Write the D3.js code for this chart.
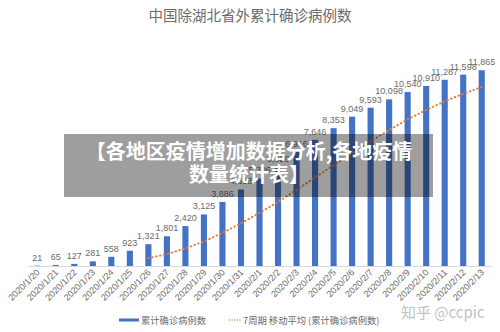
<!DOCTYPE html>
<html>
<head>
<meta charset="utf-8">
<script src="https://cdn.jsdelivr.net/npm/d3@7"></script>
<style>
  html, body { margin: 0; padding: 0; background: #fff; }
  svg { display: block; }
</style>
</head>
<body>
<svg id="chart" width="500" height="332"></svg>
<script>
const title = "中国除湖北省外累计确诊病例数";
const dates = ["2020/1/20","2020/1/21","2020/1/22","2020/1/23","2020/1/24","2020/1/25","2020/1/26","2020/1/27","2020/1/28","2020/1/29","2020/1/30","2020/1/31","2020/2/1","2020/2/2","2020/2/3","2020/2/4","2020/2/5","2020/2/6","2020/2/7","2020/2/8","2020/2/9","2020/2/10","2020/2/11","2020/2/12","2020/2/13"];
const cases = [21,65,127,281,558,923,1321,1801,2420,3125,3886,4638,5306,6028,6916,7646,8353,9049,9593,10098,10540,10910,11287,11598,11865];
const movingAvg = [null,null,null,null,null,null,471,725,1062,1490,2005,2588,3214,3886,4617,5364,6110,6848,7556,8240,8885,9456,9976,10439,10841];
const legendLabels = ["累计确诊病例数", "7周期 移动平均 (累计确诊病例数)"];
const overlayLines = ["【各地区疫情增加数据分析,各地疫情", "数量统计表】"];
const watermark = "知乎 @ccpic";

const svg = d3.select("#chart");
const font = "'Noto Sans CJK SC', 'Liberation Sans', sans-serif";
const blue = "#4472C4", orange = "#ED7D31";

const x = d3.scaleBand().domain(dates).range([28, 491]).paddingInner(0.67).paddingOuter(0.335);
const y = d3.scaleLinear().domain([0, 14000]).range([266, 35]);

// title
svg.append("text").attr("x", 250).attr("y", 21).attr("text-anchor", "middle")
  .attr("font-family", font).attr("font-size", 14.5).attr("fill", "#6b6b6b").text(title);

// axis
const xAxis = d3.axisBottom(x).tickSize(0).tickPadding(0);
const gx = svg.append("g").attr("transform", "translate(0,266)").call(xAxis);
gx.select(".domain").attr("stroke", "#d9d9d9").attr("stroke-width", 1);
gx.selectAll(".tick text")
  .attr("font-family", "'Liberation Sans', Arial, sans-serif").attr("font-size", 9).attr("fill", "#6b6b6b")
  .attr("text-anchor", "end").attr("dy", 0).attr("y", 0)
  .attr("transform", "translate(3,7) rotate(-45)");

// bars
const cx = d => x(d) + x.bandwidth() / 2;
svg.append("g").selectAll("rect").data(cases).join("rect")
  .attr("x", (d, i) => x(dates[i])).attr("width", x.bandwidth())
  .attr("y", d => y(d)).attr("height", d => y(0) - y(d)).attr("fill", blue);

// moving average
const line = d3.line().defined(d => d != null).x((d, i) => cx(dates[i])).y(d => y(d));
svg.append("path").datum(movingAvg).attr("d", line).attr("fill", "none")
  .attr("stroke", orange).attr("stroke-width", 2).attr("stroke-linecap", "round")
  .attr("stroke-dasharray", "0.5,3.5");

// value labels
const fmt = d3.format(",");
svg.append("g").selectAll("text").data(cases).join("text")
  .attr("x", (d, i) => cx(dates[i])).attr("y", d => y(d) - 5)
  .attr("text-anchor", "middle").attr("font-family", "'Liberation Sans', Arial, sans-serif")
  .attr("font-size", 9).attr("fill", "#6b6b6b").text(d => fmt(d));

// legend
const lg = svg.append("g");
lg.append("rect").attr("x", 119).attr("y", 318.5).attr("width", 20).attr("height", 3).attr("fill", blue);
lg.append("text").attr("x", 141).attr("y", 323.5).attr("font-family", font).attr("font-size", 9.3)
  .attr("fill", "#6b6b6b").text(legendLabels[0]);
lg.append("line").attr("x1", 229).attr("x2", 242).attr("y1", 320).attr("y2", 320)
  .attr("stroke", orange).attr("stroke-width", 1.5).attr("stroke-dasharray", "1,1.6");
lg.append("text").attr("x", 243).attr("y", 323.5).attr("font-family", font).attr("font-size", 9.3)
  .attr("fill", "#6b6b6b").text(legendLabels[1]);

// overlay box
svg.append("rect").attr("x", 64).attr("y", 134).attr("width", 369).attr("height", 63)
  .attr("fill", "rgba(0,0,0,0.38)");
svg.append("g").selectAll("text").data(overlayLines).join("text")
  .attr("x", 249).attr("y", (d, i) => 159 + i * 23).attr("text-anchor", "middle")
  .attr("font-family", font).attr("font-weight", "bold").attr("font-size", 20)
  .attr("fill", "#fff").text(d => d);

// watermark
svg.append("text").attr("x", 401).attr("y", 318).attr("font-family", font).attr("font-size", 15)
  .attr("fill", "rgba(140,140,140,0.55)").text(watermark);
</script>
</body>
</html>
